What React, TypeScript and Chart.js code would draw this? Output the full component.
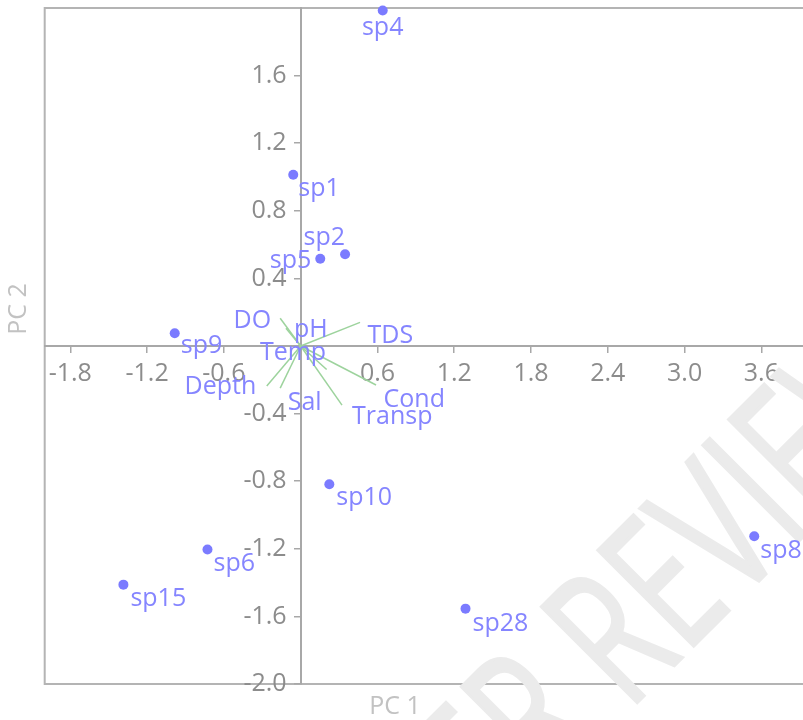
import React, { useEffect, useRef } from 'react';
import { Chart, registerables } from 'chart.js';

Chart.register(...registerables);

// ---- data ----
const speciesNames = ['sp1', 'sp2', 'sp4', 'sp5', 'sp6', 'sp8', 'sp9', 'sp10', 'sp15', 'sp28'];
const speciesPC1 = [-0.058, 0.347, 0.641, 0.153, -0.728, 3.544, -0.984, 0.224, -1.385, 1.288];
const speciesPC2 = [1.013, 0.543, 1.985, 0.516, -1.204, -1.126, 0.075, -0.818, -1.412, -1.554];

const variableNames = ['DO', 'pH', 'TDS', 'Temp', 'Cond', 'Transp', 'Sal', 'Depth'];
const loadingPC1 = [-0.16, -0.115, 0.464, 0.203, 0.589, 0.323, -0.16, -0.265];
const loadingPC2 = [0.164, 0.105, 0.14, -0.139, -0.231, -0.35, -0.249, -0.237];

const xTickValues = [-1.8, -1.2, -0.6, 0.6, 1.2, 1.8, 2.4, 3.0, 3.6];
const yTickValues = [-2.0, -1.6, -1.2, -0.8, -0.4, 0.4, 0.8, 1.2, 1.6];

const xTitle = 'PC 1';
const yTitle = 'PC 2';
const watermarkText = 'UNDER PEER REVIEW';

// ---- style: label placement offsets in pixels [dx, dy(baseline), align] ----
type Place = [number, number, CanvasTextAlign];
const speciesLabelPlace: Place[] = [
  [5, 21.5, 'left'],
  [0, -9, 'right'],
  [0, 24, 'center'],
  [-9, 9.5, 'right'],
  [6, 22, 'left'],
  [6, 22, 'left'],
  [6, 20, 'left'],
  [7, 21, 'left'],
  [7, 21, 'left'],
  [7, 22, 'left'],
];
const variableLabelPlace: Place[] = [
  [-9, 10, 'right'],
  [8, 8.5, 'left'],
  [7.5, 21, 'left'],
  [-0.5, -9.5, 'right'],
  [7.5, 21.5, 'left'],
  [10, 18.5, 'left'],
  [7.5, 22, 'left'],
  [-10.5, 7.5, 'right'],
];

const FONT = '"Open Sans", "Noto Sans", sans-serif';
const FONT_SIZE = 25;
const LABEL_COLOR = '#8585ff';
const POINT_COLOR = '#7b7bff';
const LINE_COLOR = '#9dd39d';
const TICK_COLOR = '#8c8c8c';
const AXIS_COLOR = '#a8a8a8';
const FRAME_COLOR = '#b4b4b4';
const Y_LABEL_GAP = 14;

const overlayPlugin = {
  id: 'overlay',
  beforeDraw(chart: any) {
    const { ctx, scales } = chart;
    const xs = scales.x;
    const ys = scales.y;
    // move the y tick labels off the centred axis (tick + padding)
    const items = ys.getLabelItems();
    if (items && !(items as any).__shifted) {
      items.forEach((it: any) => {
        it.options.translation[0] -= Y_LABEL_GAP;
      });
      (items as any).__shifted = true;
    }
    const l = xs.getPixelForValue(xs.min);
    const t = ys.getPixelForValue(ys.max);
    const b = ys.getPixelForValue(ys.min);
    const r = chart.width;
    ctx.save();
    ctx.strokeStyle = FRAME_COLOR;
    ctx.lineWidth = 2;
    ctx.beginPath();
    ctx.moveTo(r, t);
    ctx.lineTo(l, t);
    ctx.lineTo(l, b);
    ctx.lineTo(r, b);
    ctx.stroke();
    ctx.restore();
  },
  beforeDatasetsDraw(chart: any) {
    const { ctx } = chart;
    ctx.save();
    ctx.font = `190px ${FONT}`;
    const sx = 0.68;
    const pre = ctx.measureText('UNDER PEER ').width * sx;
    const ang = -Math.PI / 4;
    const ox = 628 - Math.cos(ang) * pre;
    const oy = 712 - Math.sin(ang) * pre;
    ctx.translate(ox, oy);
    ctx.rotate(ang);
    ctx.scale(sx, 1);
    ctx.fillStyle = '#ebebeb';
    ctx.strokeStyle = '#ebebeb';
    ctx.lineWidth = 3;
    ctx.textAlign = 'left';
    ctx.textBaseline = 'alphabetic';
    ctx.fillText(watermarkText, 0, 0);
    ctx.strokeText(watermarkText, 0, 0);
    ctx.restore();
  },
  afterDatasetsDraw(chart: any) {
    const { ctx, scales } = chart;
    const xs = scales.x;
    const ys = scales.y;
    ctx.save();
    ctx.font = `${FONT_SIZE}px ${FONT}`;
    ctx.fillStyle = LABEL_COLOR;
    ctx.textBaseline = 'alphabetic';
    speciesNames.forEach((name, i) => {
      const px = xs.getPixelForValue(speciesPC1[i]);
      const py = ys.getPixelForValue(speciesPC2[i]);
      const [dx, dy, al] = speciesLabelPlace[i];
      ctx.textAlign = al;
      ctx.fillText(name, px + dx, py + dy);
    });
    variableNames.forEach((name, i) => {
      const px = xs.getPixelForValue(loadingPC1[i]);
      const py = ys.getPixelForValue(loadingPC2[i]);
      const [dx, dy, al] = variableLabelPlace[i];
      ctx.textAlign = al;
      ctx.fillText(name, px + dx, py + dy);
    });
    ctx.restore();
  },
  afterDraw(chart: any) {
    const { ctx } = chart;
    ctx.save();
    ctx.font = `${FONT_SIZE}px ${FONT}`;
    ctx.fillStyle = '#c2c2c2';
    ctx.textAlign = 'center';
    ctx.textBaseline = 'middle';
    ctx.fillText(xTitle, 395, 707);
    ctx.translate(19, 309);
    ctx.rotate(-Math.PI / 2);
    ctx.fillText(yTitle, 0, 0);
    ctx.restore();
  },
};

export default function App() {
  const ref = useRef<HTMLCanvasElement | null>(null);

  useEffect(() => {
    if (!ref.current) return;
    const loadingSets = variableNames.map((name, i) => ({
      type: 'line' as const,
      label: name,
      data: [
        { x: 0, y: 0 },
        { x: loadingPC1[i], y: loadingPC2[i] },
      ],
      borderColor: LINE_COLOR,
      borderWidth: 1.5,
      pointRadius: 0,
      showLine: true,
      fill: false,
      clip: false as any,
    }));
    const pointsSet = {
      type: 'scatter' as const,
      label: 'species',
      data: speciesNames.map((_, i) => ({ x: speciesPC1[i], y: speciesPC2[i] })),
      backgroundColor: POINT_COLOR,
      borderColor: POINT_COLOR,
      borderWidth: 0,
      pointRadius: 5,
      clip: false as any,
    };
    const tickFont = { family: FONT, size: FONT_SIZE };
    const zeroPad = (s: any) => {
      s.paddingTop = 0;
      s.paddingBottom = 0;
      s.paddingLeft = 0;
      s.paddingRight = 0;
    };
    const chart = new Chart(ref.current, {
      type: 'scatter',
      data: { datasets: [...loadingSets, pointsSet] as any },
      options: {
        animation: false,
        responsive: false,
        layout: { padding: { left: 44.7, top: 8, right: 17.4, bottom: 36 } },
        plugins: { legend: { display: false }, tooltip: { enabled: false } },
        scales: {
          x: {
            type: 'linear',
            min: -2.0,
            max: 4.0,
            position: { y: 0 } as any,
            afterBuildTicks: (s: any) => {
              s.ticks = xTickValues.map((v) => ({ value: v }));
            },
            afterFit: zeroPad,
            grid: { drawOnChartArea: false, drawTicks: true, tickLength: 6, color: AXIS_COLOR, lineWidth: 1.5 },
            border: { display: true, color: AXIS_COLOR, width: 2 },
            ticks: {
              autoSkip: false,
              maxRotation: 0,
              padding: 7,
              color: TICK_COLOR,
              font: tickFont,
              callback: (v: any) => Number(v).toFixed(1),
            },
          },
          y: {
            type: 'linear',
            min: -2.0,
            max: 2.0,
            position: { x: 0 } as any,
            afterBuildTicks: (s: any) => {
              s.ticks = yTickValues.map((v) => ({ value: v }));
            },
            afterFit: zeroPad,
            grid: { drawOnChartArea: false, drawTicks: true, tickLength: 6, color: AXIS_COLOR, lineWidth: 1.5 },
            border: { display: true, color: AXIS_COLOR, width: 2 },
            ticks: {
              autoSkip: false,
              padding: 7,
              color: TICK_COLOR,
              font: tickFont,
              callback: (v: any) => Number(v).toFixed(1),
            },
          },
        },
      },
      plugins: [overlayPlugin],
    });
    return () => chart.destroy();
  }, []);

  return (
    <div style={{ position: 'fixed', left: 0, top: 0, width: 803, height: 720, overflow: 'hidden', background: '#fff' }}>
      <canvas ref={ref} width={830} height={720} style={{ display: 'block' }} />
    </div>
  );
}
